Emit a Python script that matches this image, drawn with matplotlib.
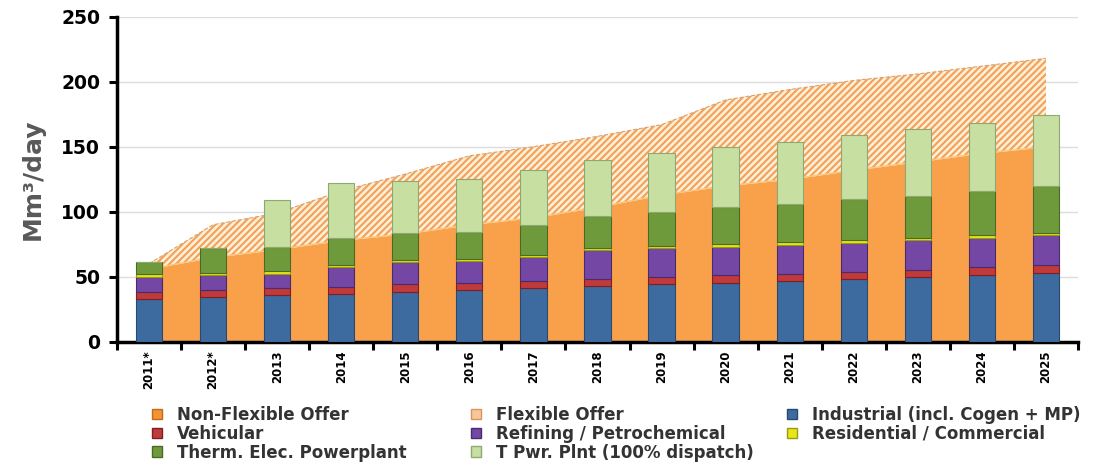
import numpy as np
import matplotlib.pyplot as plt
from matplotlib.patches import Patch

# categorias e dados (Mm3/dia)
anos = ["2011*", "2012*", "2013", "2014", "2015", "2016", "2017", "2018",
        "2019", "2020", "2021", "2022", "2023", "2024", "2025"]

oferta_nao_flex = [56, 65, 71, 78, 83, 90, 95.5, 103.5, 113, 120, 125, 132, 138.5, 145, 150]
oferta_total = [60, 90, 99, 116, 129, 143, 150, 158, 167, 186, 194, 201, 206, 212, 218]

industrial = [33, 34.5, 36, 37, 38.5, 39.5, 41.5, 43, 44.5, 45.5, 46.5, 48.5, 50, 51.5, 53]
veicular = [5, 5.5, 5.5, 5.5, 6, 6, 5.5, 5.5, 5.5, 5.5, 5.5, 5.5, 5.5, 6, 6]
refino = [12, 11, 11, 15, 17, 17, 18.5, 22, 22, 22, 22.5, 22, 22.5, 22.5, 23]
residencial = [2, 2, 2, 1.5, 1.5, 1.5, 1.5, 1.5, 1.5, 2, 2, 2, 2, 2, 2]
termo = [9, 19.5, 18.5, 21, 20.5, 20.5, 22.5, 24.5, 26.5, 28.5, 29.5, 31.5, 32, 34, 35.5]
termo_100 = [0, 0, 36, 42, 40, 41, 42.5, 43.5, 45, 46, 48, 49.5, 52, 52.5, 55]

series = [
    ("Industrial (incl. Cogen + MP)", industrial, "#3D6B9F", "#274a72"),
    ("Vehicular", veicular, "#C0393B", "#7e2022"),
    ("Refining / Petrochemical", refino, "#7347A3", "#4a2b6e"),
    ("Residential / Commercial", residencial, "#E6E619", "#9a9a10"),
    ("Therm. Elec. Powerplant", termo, "#6F9A3B", "#4b6a27"),
    ("T Pwr. Plnt (100% dispatch)", termo_100, "#C8DFA2", "#8fa872"),
]

plt.rcParams['hatch.linewidth'] = 1.5
fig = plt.figure(figsize=(10.95, 4.65), dpi=100)
ax = fig.add_axes([0.1068, 0.265, 0.8777, 0.699])

x = np.arange(len(anos))

# areas de oferta
ax.fill_between(x, 0, oferta_nao_flex, color="#F9A04B", linewidth=0, zorder=1)
ax.fill_between(x, oferta_nao_flex, oferta_total, facecolor="#FEF0D8",
                edgecolor="#F5A058", hatch="/////", linewidth=0, zorder=1)
ax.plot(x, oferta_total, ls="--", lw=0.8, color="#D8A26E", zorder=2)
ax.plot(x, oferta_nao_flex, lw=1.0, color="#FBC57A", zorder=2)

# barras empilhadas
base = np.zeros(len(anos))
for nome, vals, cor, borda in series:
    vals = np.array(vals, dtype=float)
    ax.bar(x, vals, width=0.41, bottom=base, color=cor, edgecolor=borda,
           linewidth=0.8, zorder=3)
    base = base + vals

ax.set_xlim(-0.5, len(anos) - 0.5)
ax.set_ylim(0, 250)
ax.set_yticks(range(0, 251, 50))
ax.yaxis.grid(True, color="#DCDCDC", lw=1)
ax.set_axisbelow(True)

ax.set_xticks(x)
ax.set_xticklabels(anos, rotation=90, fontsize=8.5, fontweight="bold")
ax.tick_params(axis="x", which="major", length=0, pad=6)
ax.set_xticks(np.arange(-0.5, len(anos)), minor=True)
ax.tick_params(axis="x", which="minor", length=6, width=2.2, direction="out")
ax.tick_params(axis="y", length=6, width=2.2, labelsize=13.5, pad=6)
for t in ax.get_yticklabels():
    t.set_fontweight("bold")

for s in ["top", "right"]:
    ax.spines[s].set_visible(False)
ax.spines["left"].set_linewidth(2.5)
ax.spines["bottom"].set_linewidth(2.5)

ax.set_ylabel("Mm³/day", fontsize=18, fontweight="bold", color="#595959", labelpad=12)

# legenda em tres colunas
h_nf = Patch(facecolor="#F39433", edgecolor="#c06a1a")
h_fl = Patch(facecolor="#F7C79A", edgecolor="#d9955a")
h = {nome: Patch(facecolor=cor, edgecolor=borda) for nome, _, cor, borda in series}

colunas = [
    ([h_nf, h["Vehicular"], h["Therm. Elec. Powerplant"]],
     ["Non-Flexible Offer", "Vehicular", "Therm. Elec. Powerplant"], 0.139),
    ([h_fl, h["Refining / Petrochemical"], h["T Pwr. Plnt (100% dispatch)"]],
     ["Flexible Offer", "Refining / Petrochemical", "T Pwr. Plnt (100% dispatch)"], 0.4303),
    ([h["Industrial (incl. Cogen + MP)"], h["Residential / Commercial"]],
     ["Industrial (incl. Cogen + MP)", "Residential / Commercial"], 0.719),
]
for hs, ls, xpos in colunas:
    leg = fig.legend(hs, ls, loc="upper left", bbox_to_anchor=(xpos, 0.127),
                     frameon=False, fontsize=12, labelspacing=0.05,
                     handlelength=0.6, handleheight=0.6, handletextpad=0.9,
                     borderpad=0, borderaxespad=0)
    for t in leg.get_texts():
        t.set_fontweight("bold")
        t.set_color("#333333")

fig.savefig("out.png", dpi=100)
